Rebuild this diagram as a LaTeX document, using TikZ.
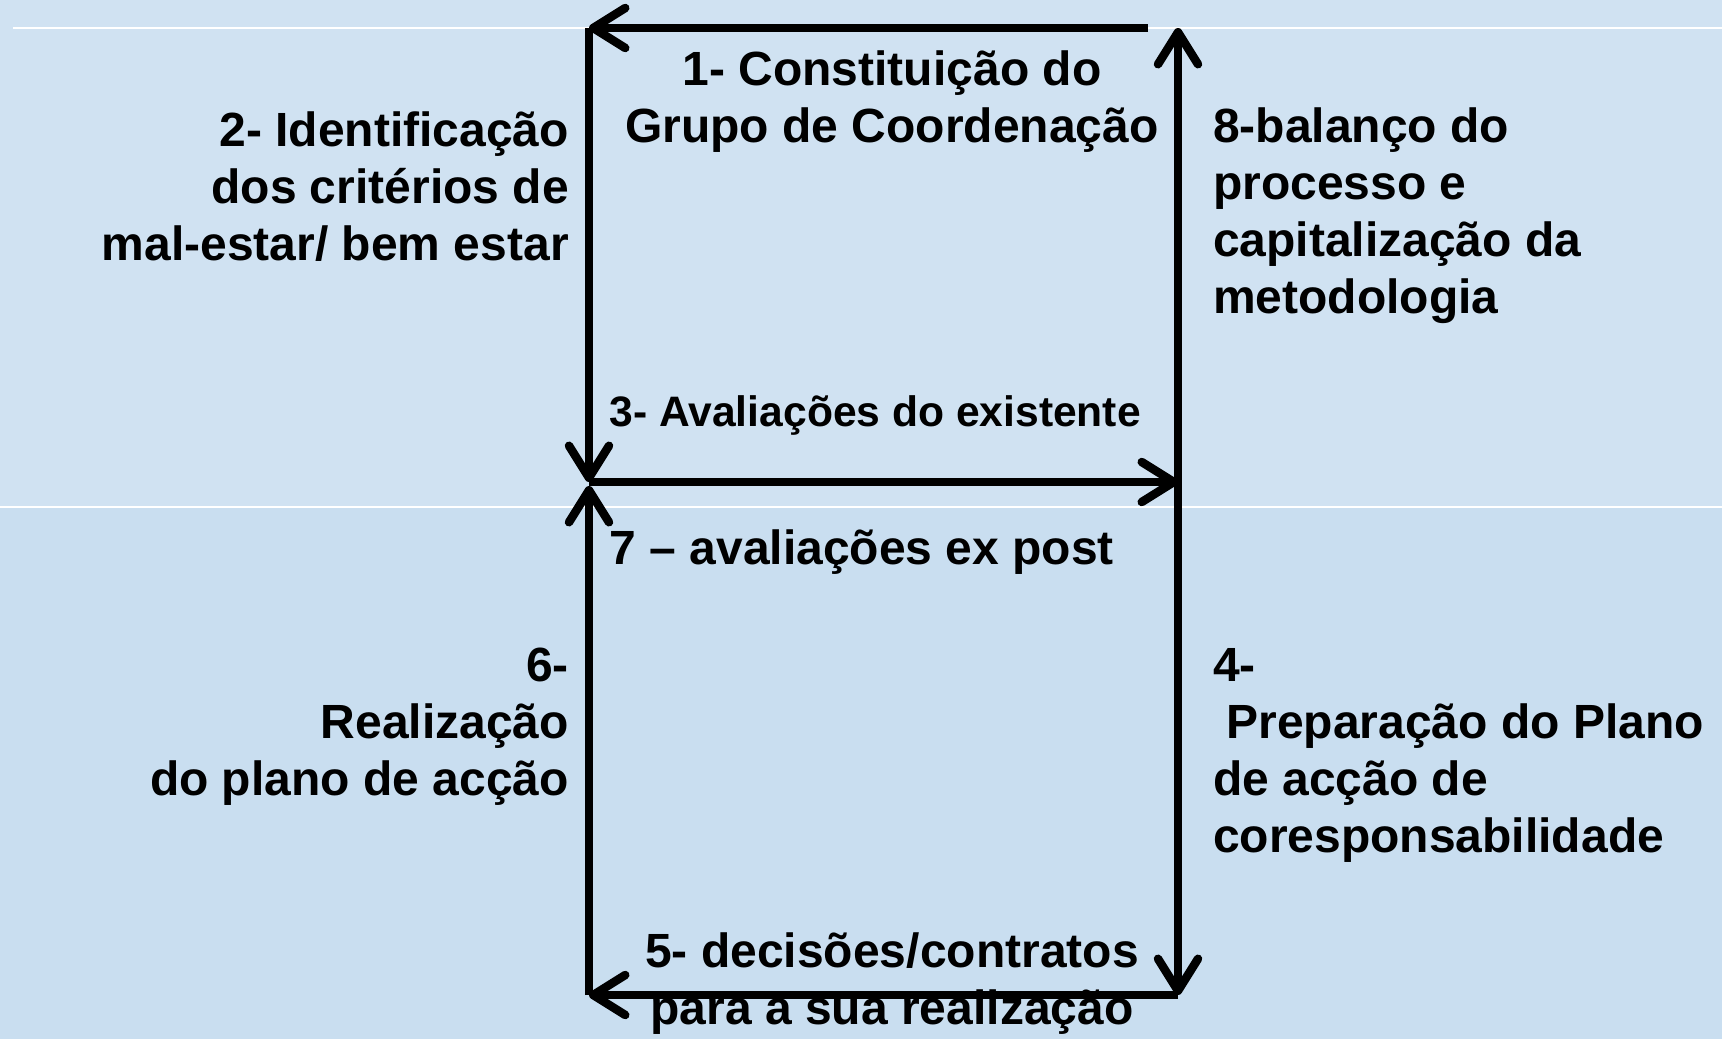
\documentclass[tikz,border=0pt]{standalone}
\usepackage{fontspec}
\setmainfont{Liberation Sans}
\usetikzlibrary{arrows.meta}
\definecolor{bgtop}{RGB}{208,226,242}
\definecolor{bgbot}{RGB}{201,222,240}
\begin{document}
\begin{tikzpicture}[x=1pt,y=-1pt,
  lbl/.style={font=\bfseries\fontsize{48}{57}\selectfont, inner sep=0pt},
  small/.style={font=\bfseries\fontsize{42.6}{50}\selectfont, inner sep=0pt},
  flow/.style={line width=8.5pt, line cap=butt,
    -{Straight Barb[length=32pt,width=40pt,round]}},
]
\fill[bgtop] (0,0) rectangle (1722,507);
\fill[bgbot] (0,507) rectangle (1722,1039);
\useasboundingbox (0,0) rectangle (1722,1039);
\draw[white, line width=2pt] (13,28) -- (1722,28);
\draw[white, line width=2pt] (0,507) -- (1722,507);

% corner coordinates
\coordinate (tl) at (589,28);
\coordinate (tend) at (1148,28);
\coordinate (trt) at (1178,28);
\coordinate (ml) at (589,482);
\coordinate (mlb) at (589,486);
\coordinate (mr) at (1178,482);
\coordinate (bl) at (589,995);
\coordinate (br) at (1178,995);

% labels
\node[lbl, align=center] (s1) at (892,101.5) {1- Constituição do\\Grupo de Coordenação};
\node[lbl, align=right, anchor=east] (s2) at (569,187) {2- Identificação\\dos critérios de\\mal-estar/ bem estar};
\node[small, anchor=west] (s3) at (609.5,415.5) {3- Avaliações do existente};
\node[lbl, align=left, anchor=west] (s4) at (1213,755) {4-\\\ Preparação do Plano\\de acção de\\coresponsabilidade};
\node[lbl, align=center] (s5) at (892,983.5) {5- decisões/contratos\\para a sua realização};
\node[lbl, align=right, anchor=east] (s6) at (569,726.6) {6-\\Realização\\do plano de acção};
\node[lbl, anchor=west] (s7) at (609.5,552.5) {7 – avaliações ex post};
\node[lbl, align=left, anchor=west] (s8) at (1213,216) {8-balanço do\\processo e\\capitalização da\\metodologia};

% cycle
\draw[flow] (tend) -- (tl);
\draw[flow] (tl) -- (ml);
\draw[flow] (ml) -- (mr);
\draw[flow] (mr) -- (br);
\draw[flow] (br) -- (bl);
\draw[flow] (bl) -- (mlb);
\draw[flow] (mr) -- (trt);
\end{tikzpicture}
\end{document}
